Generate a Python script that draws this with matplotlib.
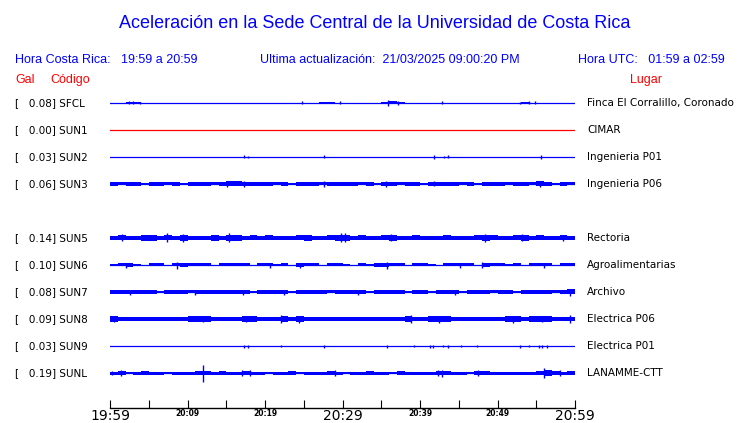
#!/usr/bin/env python3
"""Acceleration traces, Sede Central UCR (one hour window) -> out.png"""

import numpy as np
import matplotlib

matplotlib.use("Agg")
import matplotlib.pyplot as plt  # noqa: E402
from matplotlib.transforms import blended_transform_factory  # noqa: E402

BLUE, RED = "#0000FF", "#FF0000"
HEAD = "Liberation Sans"

TITLE = "Aceleración en la Sede Central de la Universidad de Costa Rica"
HORA_CR = "Hora Costa Rica:   19:59 a 20:59"
UPDATED = "Ultima actualización:  21/03/2025 09:00:20 PM"
HORA_UTC = "Hora UTC:   01:59 a 02:59"

# station table
CODES = ["SFCL", "SUN1", "SUN2", "SUN3", "SUN5", "SUN6", "SUN7", "SUN8", "SUN9", "SUNL"]
PEAKS = [0.08, 0.00, 0.03, 0.06, 0.14, 0.10, 0.08, 0.09, 0.03, 0.19]
PLACES = ["Finca El Corralillo, Coronado", "CIMAR", "Ingenieria P01", "Ingenieria P06",
          "Rectoria", "Agroalimentarias", "Archivo", "Electrica P06", "Electrica P01",
          "LANAMME-CTT"]

# time axis (minutes after 19:59)
TICK_MIN = list(range(0, 61, 5))
TICK_LBL = ["19:59", "", "20:09", "", "20:19", "", "20:29", "", "20:39", "", "20:49", "", "20:59"]
BIG_LBL = ["19:59", "20:29", "20:59"]

# per-minute envelope (half amplitude, screen px)
ENV = {
    "SFCL": [0, 0, 1, 1, 0, 0, 0, 0, 0, 0, 0, 0, 0, 0, 0, 0, 0, 0, 0, 0,
             0, 0, 0, 0, 0, 0, 0, 0.5, 1, 0, 0, 0, 0, 0, 0, 1, 1.5, 1, 0, 0,
             0, 0, 0, 0, 0, 0, 0, 0, 0, 0, 0, 0, 0, 1, 0, 0, 0, 0, 0, 0],
    "SUN1": [0] * 60,
    "SUN2": [0] * 60,
    "SUN3": [2, 1.5, 2, 2, 1, 2, 2, 1.5, 2, 1, 2, 2, 2, 1.5, 2, 2.5, 2.5, 2, 2, 2,
             2, 1.5, 2, 1, 2, 2, 2, 1.5, 2, 2, 2, 2, 1.5, 2, 1, 2, 2, 1.5, 2, 2,
             1, 2, 2, 2, 2, 1.5, 2, 1, 2, 2, 2, 1.5, 2, 2, 1.5, 2.5, 2, 1, 2, 1.5],
    "SUN5": [2, 2.5, 2, 2, 3, 3, 2, 2.5, 2, 3, 2, 2, 2, 3, 2, 3, 3, 2, 2.5, 2,
             2.5, 2, 2, 2, 2.5, 3, 2, 2, 2.5, 3, 3, 2, 2.5, 2, 2, 2.5, 3, 2, 2, 2.5,
             2, 2, 2, 2.5, 2, 2, 2, 2.5, 3, 2.5, 2, 2, 2.5, 3, 2, 2.5, 2, 2, 2.5, 2],
    "SUN6": [1, 1.5, 2, 1, 0, 1.5, 1.5, 0, 1.5, 2, 1.5, 1.5, 1.5, 0, 1.5, 1.5, 1.5, 1.5, 0, 1.5,
             1.5, 1, 1.5, 0, 2, 1.5, 1.5, 0, 1.5, 1.5, 1, 0, 1.5, 1, 2, 2, 1.5, 1.5, 0, 1.5,
             1.5, 1, 0, 1.5, 1.5, 1.5, 1.5, 0, 2, 1.5, 1.5, 1, 1.5, 0, 1.5, 1.5, 1.5, 0, 1.5, 1.5],
    "SUN7": [2, 2, 2, 2, 2, 2, 1, 2, 2, 2, 1.5, 2, 2, 2, 2, 2, 2, 2, 1, 2,
             2, 2, 2, 1, 2, 2, 2, 2, 1.5, 2, 2, 2, 2, 0.5, 2, 2, 2, 2, 1, 2,
             2, 0.5, 2, 2, 2, 1, 2, 2, 2, 1.5, 2, 2, 1, 2, 2, 2, 2, 1.5, 2, 2.5],
    "SUN8": [2.5, 2, 2, 2, 2, 2, 2, 2, 2, 2, 2.5, 2.5, 2.5, 2, 2, 2, 2, 2.5, 2.5, 2,
             2, 2, 2.5, 2, 2.5, 2, 2, 2, 2, 2, 2, 2, 2, 2, 2, 2, 2, 2, 2.5, 2,
             2, 2.5, 2.5, 2.5, 2, 2, 2, 2, 2, 2, 2, 2.5, 2.5, 2, 2.5, 2.5, 2.5, 2, 2, 2],
    "SUN9": [0] * 60,
    "SUNL": [1.5, 2, 1, 1.5, 2, 1.5, 1.5, 0.5, 1.5, 1.5, 1.5, 2, 2, 1.5, 2, 1.5, 1.5, 2, 1.5, 1.5,
             0.5, 1.5, 1.5, 2, 1, 1.5, 1.5, 1.5, 2, 1.5, 1, 1.5, 1.5, 2, 1.5, 1.5, 1, 2, 1.5, 1.5,
             1.5, 1.5, 2, 2, 1.5, 1.5, 1, 2, 2, 1.5, 1.5, 1.5, 1.5, 1.5, 1.5, 2, 2.5, 2, 1.5, 2],
}

# isolated peaks: minute, half amplitude (px)
SPIKE_T = {
    "SFCL": [2.4, 3.0, 3.9, 24.8, 29.7, 35.9, 37.2, 42.8, 52.9, 54.0, 54.8],
    "SUN2": [17.3, 17.8, 27.6, 41.8, 43.1, 43.6, 55.6],
    "SUN3": [15.1, 17.3, 27.6, 35.6, 41.8, 55.5],
    "SUN5": [1.5, 7.3, 9.4, 15.3, 29.8, 30.3, 36.2, 48.4, 53.1, 58.5],
    "SUN6": [2.1, 8.6, 20.6, 24.5, 35.7, 45.2, 48.0, 56.0],
    "SUN7": [2.6, 11.0, 17.2, 22.4, 32.0, 44.5, 59.4],
    "SUN8": [0.5, 12.0, 17.5, 22.1, 24.4, 38.9, 42.5, 52.0, 55.8, 59.4],
    "SUN9": [17.3, 17.8, 22.0, 27.6, 35.7, 39.2, 41.3, 41.7, 43.0, 43.6, 45.3, 47.4,
             52.9, 54.0, 55.3, 55.8, 56.4],
    "SUNL": [0.3, 1.4, 12.0, 17.0, 18.0, 29.0, 42.3, 42.9, 47.5, 56.0, 58.0],
}
SPIKE_A = {
    "SFCL": [1.5, 1.5, 1, 1.5, 1.5, 3, 2, 1.5, 1, 1.5, 1.5],
    "SUN2": [1.5, 1, 1.5, 2, 1, 1.5, 2],
    "SUN3": [3, 3, 3, 3, 2.5, 3],
    "SUN5": [3.5, 4.5, 4, 4.5, 4.5, 4.5, 3.5, 4, 3.5, 3],
    "SUN6": [2.5, 3.5, 2.5, 2.5, 3.5, 2.5, 3, 2.5],
    "SUN7": [2.5, 2.5, 2.5, 2.5, 2.5, 2.5, 3.5],
    "SUN8": [3, 3, 3, 4, 3.5, 4, 3.5, 3.5, 3, 4],
    "SUN9": [1.5, 1.5, 1, 1.5, 1.5, 1, 1.5, 1.5, 1, 1.5, 1, 1, 1.5, 1, 1.5, 1.5, 1.5],
    "SUNL": [2, 2.5, 8.5, 3, 2.5, 3, 3, 3.5, 3, 5, 3],
}

# layout (pixels of a 740x423 image)
W, H = 740, 423
X0, X1 = 110, 575          # trace span
Y_FIRST, DY = 103, 27      # first trace row, row spacing
AX_TOP, AX_BOT = 89.5, 408
ROW = [0, 1, 2, 3, 5, 6, 7, 8, 9, 10]   # slot 4 (SUN4) is empty
PX = 1 / DY                # one pixel in row units
LBL_FS = 7.5


def main():
    fig = plt.figure(figsize=(W / 100, H / 100), dpi=100)
    ax = fig.add_axes([X0 / W, 1 - AX_BOT / H, (X1 - X0) / W, (AX_BOT - AX_TOP) / H])
    ax.set_xlim(0, 60)
    ax.set_ylim((AX_BOT - Y_FIRST) / DY, (AX_TOP - Y_FIRST) / DY)

    edges = np.arange(61)
    for code, r in zip(CODES, ROW):
        col = RED if code == "SUN1" else BLUE
        ax.axhline(r, color=col, lw=0.9)
        env = np.array(ENV[code] + ENV[code][-1:], dtype=float) * PX
        ax.fill_between(edges, r - env, r + env, step="post", color=col, lw=0, antialiased=False)
        if code in SPIKE_T:
            a = np.array(SPIKE_A[code]) * PX
            ax.vlines(SPIKE_T[code], r - a, r + a, color=col, lw=1.0)

    # labels on both sides
    tr = blended_transform_factory(fig.transFigure, ax.transData)
    for code, pk, place, r in zip(CODES, PEAKS, PLACES, ROW):
        ax.text(15 / W, r, f"[   {pk:.2f}] {code}", transform=tr, fontsize=LBL_FS,
                va="center", ha="left")
        ax.text(587 / W, r, place, transform=tr, fontsize=LBL_FS, va="center", ha="left")

    for s in ["top", "left", "right"]:
        ax.spines[s].set_visible(False)
    ax.spines["bottom"].set_linewidth(1.0)
    ax.set_yticks([])
    ax.set_xticks(TICK_MIN)
    ax.set_xticklabels(TICK_LBL)
    ax.tick_params(axis="x", direction="in", length=6, width=0.8, pad=1)
    for lbl in ax.get_xticklabels():
        if lbl.get_text() in BIG_LBL:
            lbl.set_fontsize(10)
        else:
            lbl.set_fontsize(5.5)
            lbl.set_fontweight("bold")

    # header
    fig.text(375 / W, 1 - 23 / H, TITLE, color=BLUE, fontsize=13, family=HEAD,
             ha="center", va="center")
    fs = 9
    fig.text(15 / W, 1 - 60 / H, HORA_CR, color=BLUE, fontsize=fs, family=HEAD, va="center")
    fig.text(260 / W, 1 - 60 / H, UPDATED, color=BLUE, fontsize=fs, family=HEAD, va="center")
    fig.text(725 / W, 1 - 60 / H, HORA_UTC, color=BLUE, fontsize=fs, family=HEAD,
             va="center", ha="right")
    fig.text(15 / W, 1 - 80 / H, "Gal", color=RED, fontsize=fs, family=HEAD, va="center")
    fig.text(50 / W, 1 - 80 / H, "Código", color=RED, fontsize=fs, family=HEAD, va="center")
    fig.text(630 / W, 1 - 80 / H, "Lugar", color=RED, fontsize=fs, family=HEAD, va="center")

    fig.savefig("out.png", dpi=100)


if __name__ == "__main__":
    main()
